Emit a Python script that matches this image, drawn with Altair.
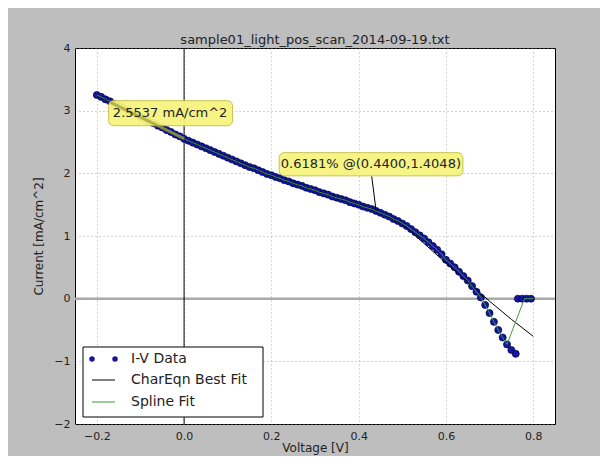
import altair as alt
import pandas as pd

# ---------------- data ----------------
volt = [-0.20, -0.19, -0.18, -0.17, -0.16, -0.15, -0.14, -0.13, -0.12, -0.11,
        -0.10, -0.09, -0.08, -0.07, -0.06, -0.05, -0.04, -0.03, -0.02, -0.01,
        0.00, 0.01, 0.02, 0.03, 0.04, 0.05, 0.06, 0.07, 0.08, 0.09,
        0.10, 0.11, 0.12, 0.13, 0.14, 0.15, 0.16, 0.17, 0.18, 0.19,
        0.20, 0.21, 0.22, 0.23, 0.24, 0.25, 0.26, 0.27, 0.28, 0.29,
        0.30, 0.31, 0.32, 0.33, 0.34, 0.35, 0.36, 0.37, 0.38, 0.39,
        0.40, 0.41, 0.42, 0.43, 0.44, 0.45, 0.46, 0.47, 0.48, 0.49,
        0.50, 0.51, 0.52, 0.53, 0.54, 0.55, 0.56, 0.57, 0.58, 0.59,
        0.60, 0.61, 0.62, 0.63, 0.64, 0.65, 0.66, 0.67, 0.68, 0.69,
        0.70, 0.71, 0.72, 0.73, 0.74, 0.75, 0.76,
        0.765, 0.775, 0.785, 0.795]
curr = [3.25, 3.22, 3.18, 3.15, 3.11, 3.08, 3.04, 3.01, 2.97, 2.94,
        2.90, 2.87, 2.83, 2.80, 2.76, 2.73, 2.69, 2.66, 2.62, 2.59,
        2.55, 2.52, 2.49, 2.46, 2.43, 2.40, 2.37, 2.34, 2.31, 2.28,
        2.25, 2.22, 2.19, 2.16, 2.13, 2.10, 2.08, 2.05, 2.02, 1.99,
        1.97, 1.94, 1.92, 1.89, 1.87, 1.84, 1.82, 1.80, 1.77, 1.75,
        1.73, 1.70, 1.68, 1.66, 1.63, 1.61, 1.59, 1.57, 1.54, 1.52,
        1.50, 1.47, 1.45, 1.43, 1.40, 1.37, 1.34, 1.31, 1.27, 1.24,
        1.20, 1.16, 1.11, 1.06, 1.01, 0.96, 0.90, 0.84, 0.78, 0.71,
        0.62, 0.56, 0.50, 0.43, 0.36, 0.29, 0.20, 0.11, 0.02, -0.10,
        -0.23, -0.37, -0.50, -0.62, -0.73, -0.82, -0.88,
        0.0, 0.0, 0.0, 0.0]

fit_v = [-0.20, 0.00, 0.20, 0.44, 0.50, 0.55, 0.60, 0.65, 0.70, 0.75, 0.80]
fit_i = [3.25, 2.55, 1.96, 1.41, 1.19, 0.88, 0.57, 0.27, -0.04, -0.33, -0.60]

spline_v = volt[:95] + [0.78, 0.80]
spline_i = curr[:95] + [0.0, 0.0]

hline_values = [0.0]
vline_values = [0.0]

anno_text = ["2.5537 mA/cm^2", "0.6181% @(0.4400,1.4048)"]
anno_label_v = [-0.032, 0.428]
anno_label_i = [2.96, 2.145]
anno_box_v1 = [-0.173, 0.218]
anno_box_v2 = [0.111, 0.639]
anno_box_i1 = [2.76, 1.96]
anno_box_i2 = [3.16, 2.33]
anno_arrow_v1 = [-0.168, 0.430]
anno_arrow_i1 = [3.13, 1.95]
anno_target_v = [0.0, 0.4400]
anno_target_i = [2.5537, 1.4048]

x_ticks = [-0.2, 0.0, 0.2, 0.4, 0.6, 0.8]
y_ticks = [-2, -1, 0, 1, 2, 3, 4]

legend_labels = ["I-V Data", "CharEqn Best Fit", "Spline Fit"]
title_text = "sample01_light_pos_scan_2014-09-19.txt"

# ---------------- styling ----------------
FONT = "DejaVu Sans"
BLUE = "#1515a0"
GREEN = "#3c9c3c"

xs = alt.Scale(domain=[-0.25, 0.85], nice=False, zero=False)
ys = alt.Scale(domain=[-2, 4], nice=False, zero=False)

x_axis = alt.Axis(values=x_ticks, format=".1f", grid=True, ticks=False, domain=False,
                  labelPadding=6, titlePadding=1, labelFontSize=11, titleFontSize=12,
                  labelFont=FONT, titleFont=FONT, labelColor="#222", titleColor="#222",
                  titleFontWeight="normal", gridColor="#888", gridDash=[1, 3],
                  gridOpacity=0.7, labelFlush=False)
y_axis = alt.Axis(values=y_ticks, format="d", grid=True, ticks=False, domain=False,
                  labelPadding=5, titlePadding=8, labelFontSize=11, titleFontSize=12,
                  labelFont=FONT, titleFont=FONT, labelColor="#222", titleColor="#222",
                  titleFontWeight="normal", gridColor="#888", gridDash=[1, 3],
                  gridOpacity=0.7, labelFlush=False)


def X(field="v"):
    return alt.X(f"{field}:Q", scale=xs, axis=x_axis, title="Voltage [V]")


def Y(field="i"):
    return alt.Y(f"{field}:Q", scale=ys, axis=y_axis, title="Current [mA/cm^2]")


df = pd.DataFrame({"v": volt, "i": curr})
df_fit = pd.DataFrame({"v": fit_v, "i": fit_i})
df_spl = pd.DataFrame({"v": spline_v, "i": spline_i, "o": list(range(len(spline_v)))})
df_h = pd.DataFrame({"i": hline_values})
df_v = pd.DataFrame({"v": vline_values})
df_anno = pd.DataFrame({
    "t": anno_text, "v": anno_label_v, "i": anno_label_i,
    "bv1": anno_box_v1, "bv2": anno_box_v2, "bi1": anno_box_i1, "bi2": anno_box_i2,
    "av": anno_arrow_v1, "ai": anno_arrow_i1, "tv": anno_target_v, "ti": anno_target_i,
})

hline = alt.Chart(df_h).mark_rule(color="#a8a8a8", strokeWidth=2.5).encode(y=Y())
vline = alt.Chart(df_v).mark_rule(color="black", strokeWidth=1).encode(x=X())

points = alt.Chart(df).mark_point(filled=True, shape="circle", size=50, color=BLUE,
                                  stroke="#00004a", strokeWidth=0.7, opacity=1,
                                  clip=True).encode(x=X(), y=Y())
fit_line = alt.Chart(df_fit).mark_line(color="black", strokeWidth=1, clip=True).encode(
    x=X(), y=Y())
spl_line = alt.Chart(df_spl).mark_line(color=GREEN, strokeWidth=1, clip=True).encode(
    x=X(), y=Y(), order="o:Q")

boxes = alt.Chart(df_anno).mark_rect(fill="#f6f47e", stroke="#c8c050", strokeWidth=1,
                                     cornerRadius=5, opacity=0.95).encode(
    x=X("bv1"), x2="bv2:Q", y=Y("bi1"), y2="bi2:Q")
texts = alt.Chart(df_anno).mark_text(font=FONT, fontSize=13, color="#222",
                                     align="center", baseline="middle").encode(
    x=X(), y=Y(), text="t:N")
arrow1 = alt.Chart(df_anno.iloc[[0]]).mark_rule(color="#a0a030", strokeWidth=3,
                                                 opacity=0.75).encode(
    x=X("av"), x2="tv:Q", y=Y("ai"), y2="ti:Q")
arrow2 = alt.Chart(df_anno.iloc[[1]]).mark_rule(color="black", strokeWidth=1).encode(
    x=X("av"), x2="tv:Q", y=Y("ai"), y2="ti:Q")

# ---------------- legend (drawn manually, lower-left) ----------------
one = pd.DataFrame({"k": [0]})
leg_box = alt.Chart(one).mark_rect(fill="white", stroke="black", strokeWidth=1).encode(
    x=alt.value(8), x2=alt.value(188), y=alt.value(299), y2=alt.value(369))
leg_dot1 = alt.Chart(one).mark_point(filled=True, shape="circle", size=30, color=BLUE,
                                     opacity=1).encode(x=alt.value(17), y=alt.value(311))
leg_dot2 = alt.Chart(one).mark_point(filled=True, shape="circle", size=30, color=BLUE,
                                     opacity=1).encode(x=alt.value(40), y=alt.value(311))
leg_l1 = alt.Chart(one).mark_rule(color="black", strokeWidth=1).encode(
    x=alt.value(17), x2=alt.value(40), y=alt.value(332))
leg_l2 = alt.Chart(one).mark_rule(color=GREEN, strokeWidth=1).encode(
    x=alt.value(17), x2=alt.value(40), y=alt.value(354))
leg_texts = [
    alt.Chart(one).mark_text(font=FONT, fontSize=14, color="#222", align="left",
                             baseline="middle").encode(
        x=alt.value(56), y=alt.value(yy), text=alt.value(lbl))
    for lbl, yy in zip(legend_labels, [311, 332, 354])
]

chart = alt.layer(
    hline, vline, points, fit_line, spl_line, boxes, arrow1, arrow2, texts,
    leg_box, leg_dot1, leg_dot2, leg_l1, leg_l2, *leg_texts
).properties(
    width=480, height=376,
    padding={"left": 67, "top": 40, "right": 45, "bottom": 32},
    autosize=alt.AutoSizeParams(type="none"),
    title=alt.TitleParams(text=title_text, font=FONT, fontSize=13, fontWeight="normal",
                          color="#222", offset=-5, anchor="middle"),
).configure(background="#bebebe").configure_view(
    fill="white", stroke="black", strokeWidth=1
)

chart.save("out.html", embed_options={"renderer": "svg", "actions": False})
